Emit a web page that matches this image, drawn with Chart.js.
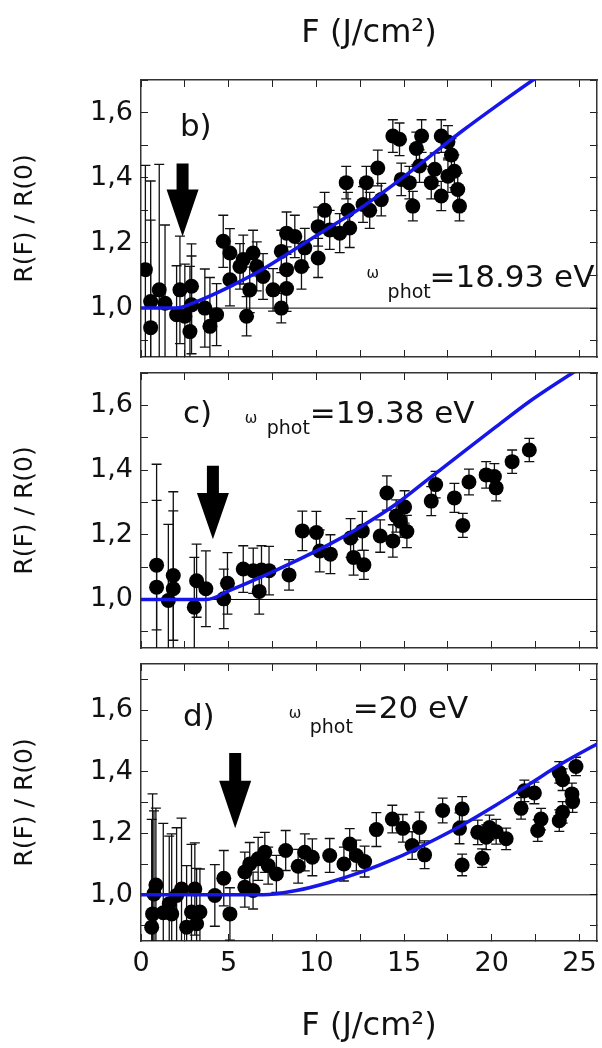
<!DOCTYPE html>
<html>
<head>
<meta charset="utf-8">
<script src="https://cdn.jsdelivr.net/npm/chart.js@4.4.0/dist/chart.umd.min.js"></script>
<style>
  html, body { margin: 0; padding: 0; background: #fff; }
  #wrap { position: relative; width: 602px; height: 1048px; }
  #wrap canvas { position: absolute; left: 0; }
</style>
</head>
<body>
<div id="wrap">
  <canvas id="panelB" width="602" height="365" style="top:0px"></canvas>
  <canvas id="panelC" width="602" height="291" style="top:365px"></canvas>
  <canvas id="panelD" width="602" height="392" style="top:656px"></canvas>
</div>
<script>
// ---- ticks ----
var xTickValues = [0, 2.5, 5, 7.5, 10, 12.5, 15, 17.5, 20, 22.5, 25];
var xTickLabels = [0, 5, 10, 15, 20, 25];
var yTickValues = [0.9, 1.0, 1.1, 1.2, 1.3, 1.4, 1.5, 1.6, 1.7];
var yTickLabels = [1.0, 1.2, 1.4, 1.6];

// ---- panel b) : 18.93 eV ----
var fluenceB = [0.25, 0.55, 0.55, 1.04, 1.37, 2.03, 2.22, 2.5, 2.79, 2.88, 2.88, 3.64, 3.93, 4.31, 4.69, 5.07, 5.07, 5.64, 5.83, 6.02, 6.2, 6.39, 6.6, 6.96, 7.53, 8.0, 8.0, 8.3, 8.3, 8.3, 8.77, 9.15, 9.34, 10.1, 10.1, 10.47, 10.76, 11.33, 11.7, 11.8, 11.9, 12.66, 12.85, 13.04, 13.5, 13.7, 14.36, 14.74, 14.84, 15.3, 15.5, 15.7, 15.88, 16.0, 16.55, 16.75, 17.12, 17.12, 17.5, 17.5, 17.7, 17.87, 18.06, 18.16];
var ratioB = [1.118, 1.02, 0.94, 1.056, 1.015, 0.98, 1.056, 0.975, 0.928, 1.067, 1.01, 1.0, 0.944, 0.98, 1.205, 1.169, 1.087, 1.128, 1.149, 0.975, 1.056, 1.169, 1.128, 1.097, 1.056, 1.0, 1.174, 1.23, 1.118, 1.06, 1.22, 1.128, 1.185, 1.154, 1.25, 1.30, 1.24, 1.23, 1.385, 1.30, 1.246, 1.318, 1.385, 1.30, 1.43, 1.333, 1.528, 1.518, 1.395, 1.385, 1.313, 1.49, 1.436, 1.528, 1.385, 1.426, 1.528, 1.344, 1.405, 1.51, 1.47, 1.42, 1.364, 1.313];
var errB = [0.32, 0.25, 0.45, 0.385, 0.24, 0.15, 0.165, 0.16, 0.2, 0.13, 0.15, 0.12, 0.15, 0.095, 0.08, 0.075, 0.08, 0.07, 0.075, 0.06, 0.07, 0.07, 0.075, 0.07, 0.065, 0.045, 0.065, 0.065, 0.07, 0.07, 0.065, 0.07, 0.06, 0.06, 0.06, 0.055, 0.06, 0.06, 0.05, 0.055, 0.06, 0.055, 0.05, 0.055, 0.055, 0.05, 0.05, 0.05, 0.05, 0.05, 0.045, 0.05, 0.05, 0.05, 0.05, 0.05, 0.05, 0.045, 0.05, 0.05, 0.05, 0.05, 0.05, 0.045];
var fitFluenceB = [0, 2.0, 3.17, 5.07, 6.96, 8.86, 10.76, 12.66, 14.55, 16.45, 18.35, 20.25, 22.43, 24];
var fitRatioB = [1.0, 1.0, 1.02, 1.066, 1.12, 1.184, 1.248, 1.312, 1.385, 1.465, 1.545, 1.62, 1.703, 1.76];

// ---- panel c) : 19.38 eV ----
var fluenceC = [0.89, 0.89, 1.56, 1.84, 1.84, 3.04, 3.17, 3.7, 4.72, 4.93, 5.83, 6.4, 6.74, 6.87, 7.3, 8.44, 9.2, 10.0, 10.19, 10.8, 11.95, 12.12, 12.62, 12.71, 13.64, 14.02, 14.36, 14.55, 14.78, 15.03, 15.16, 16.55, 16.8, 17.87, 18.35, 18.7, 19.68, 20.15, 20.25, 21.16, 22.14];
var ratioC = [1.106, 1.038, 0.997, 1.074, 1.033, 0.976, 1.058, 1.033, 1.002, 1.05, 1.094, 1.089, 1.025, 1.091, 1.089, 1.076, 1.212, 1.207, 1.15, 1.14, 1.19, 1.13, 1.212, 1.107, 1.196, 1.329, 1.181, 1.258, 1.242, 1.286, 1.21, 1.304, 1.355, 1.314, 1.229, 1.363, 1.385, 1.38, 1.345, 1.426, 1.462];
var errC = [0.2, 0.38, 0.235, 0.2, 0.3, 0.154, 0.113, 0.117, 0.092, 0.095, 0.072, 0.07, 0.07, 0.075, 0.075, 0.047, 0.061, 0.065, 0.065, 0.06, 0.06, 0.055, 0.06, 0.045, 0.05, 0.053, 0.05, 0.05, 0.05, 0.05, 0.05, 0.045, 0.041, 0.045, 0.037, 0.04, 0.041, 0.04, 0.04, 0.036, 0.036];
var fitFluenceC = [0, 3.74, 5.07, 6.96, 8.86, 10.76, 12.66, 14.55, 16.45, 18.35, 20.25, 22.15, 24.6, 25.5];
var fitRatioC = [1.0, 1.0, 1.028, 1.072, 1.12, 1.171, 1.229, 1.295, 1.375, 1.455, 1.534, 1.612, 1.70, 1.73];

// ---- panel d) : 20 eV ----
var fluenceD = [0.61, 0.66, 0.74, 0.85, 1.27, 1.61, 1.75, 2.03, 2.31, 2.6, 2.88, 3.07, 3.17, 3.36, 4.21, 4.72, 5.07, 5.92, 5.92, 6.2, 6.39, 6.68, 7.06, 7.25, 7.72, 8.25, 8.96, 9.34, 9.77, 10.76, 11.57, 11.9, 12.28, 12.75, 13.42, 14.33, 14.93, 15.46, 15.88, 16.17, 17.2, 18.16, 18.31, 18.31, 19.2, 19.45, 19.68, 19.87, 20.25, 20.82, 21.67, 21.86, 22.43, 22.62, 22.81, 23.85, 24.04, 23.85, 24.04, 24.57, 24.61, 24.8];
var ratioD = [0.895, 0.938, 1.003, 1.032, 0.942, 0.971, 0.938, 0.998, 1.019, 0.895, 0.944, 1.019, 0.906, 0.944, 0.998, 1.054, 0.938, 1.025, 1.074, 1.10, 1.014, 1.117, 1.138, 1.095, 1.068, 1.144, 1.093, 1.138, 1.122, 1.128, 1.10, 1.165, 1.128, 1.108, 1.212, 1.246, 1.216, 1.16, 1.219, 1.13, 1.274, 1.216, 1.279, 1.097, 1.203, 1.119, 1.187, 1.219, 1.205, 1.182, 1.281, 1.338, 1.331, 1.209, 1.246, 1.241, 1.268, 1.398, 1.374, 1.328, 1.303, 1.417];
var errD = [0.35, 0.39, 0.27, 0.25, 0.29, 0.22, 0.26, 0.22, 0.23, 0.2, 0.22, 0.15, 0.18, 0.14, 0.1, 0.09, 0.085, 0.065, 0.065, 0.07, 0.06, 0.07, 0.065, 0.06, 0.06, 0.065, 0.055, 0.06, 0.06, 0.055, 0.055, 0.05, 0.05, 0.05, 0.055, 0.045, 0.045, 0.045, 0.05, 0.045, 0.04, 0.05, 0.04, 0.035, 0.04, 0.03, 0.04, 0.04, 0.04, 0.035, 0.035, 0.035, 0.035, 0.035, 0.035, 0.035, 0.035, 0.035, 0.035, 0.035, 0.035, 0.03];
var fitFluenceD = [0, 6.96, 8.86, 10.76, 12.66, 14.55, 16.45, 18.35, 20.25, 22.15, 24.04, 26];
var fitRatioD = [1.0, 1.0, 1.014, 1.041, 1.076, 1.119, 1.171, 1.228, 1.292, 1.36, 1.428, 1.49];

// reference line R(F)/R(0) = 1
var baseFluence = [0, 26];
var baseRatio = [1, 1];

var FONT = 'DejaVu Sans';
var INK = '#111';

function toPoints(xs, ys) {
	return xs.map(function(x, i) { return {x: x, y: ys[i]}; });
}

function sameValue(a, b) {
	return Math.abs(a - b) < 1e-6;
}

// fixed axis box, no label overflow padding (keeps the three plot frames aligned)
function fixBox(w, h) {
	return function(s) {
		if (w !== null) s.width = w;
		if (h !== null) s.height = h;
		s.paddingTop = s.paddingBottom = s.paddingLeft = s.paddingRight = 0;
	};
}

// error bars (under the points), threshold arrow and text labels (on top)
function decorPlugin(p) {
	return {
		id: 'decor',
		beforeDatasetsDraw: function(chart) {
			var ctx = chart.ctx, xs = chart.scales.x, ys = chart.scales.y, a = chart.chartArea;
			ctx.save();
			ctx.beginPath();
			ctx.rect(a.left, a.top, a.right - a.left, a.bottom - a.top);
			ctx.clip();
			ctx.strokeStyle = INK;
			ctx.lineWidth = 1.3;
			p.x.forEach(function(v, i) {
				var px = xs.getPixelForValue(v);
				var top = ys.getPixelForValue(p.y[i] + p.err[i]);
				var bot = ys.getPixelForValue(p.y[i] - p.err[i]);
				ctx.beginPath();
				ctx.moveTo(px, top); ctx.lineTo(px, bot);
				ctx.moveTo(px - 5, top); ctx.lineTo(px + 5, top);
				ctx.moveTo(px - 5, bot); ctx.lineTo(px + 5, bot);
				ctx.stroke();
			});
			ctx.restore();
		},
		afterDatasetsDraw: function(chart) {
			var ctx = chart.ctx, xs = chart.scales.x, ys = chart.scales.y;
			var ar = p.arrow;
			var ax = xs.getPixelForValue(ar.x);
			var aTop = ys.getPixelForValue(ar.top);
			var aHead = ys.getPixelForValue(ar.head);
			var aTip = ys.getPixelForValue(ar.tip);
			ctx.save();
			ctx.fillStyle = '#000';
			ctx.beginPath();
			ctx.moveTo(ax - 6, aTop);
			ctx.lineTo(ax + 6, aTop);
			ctx.lineTo(ax + 6, aHead);
			ctx.lineTo(ax + 16, aHead);
			ctx.lineTo(ax, aTip);
			ctx.lineTo(ax - 16, aHead);
			ctx.lineTo(ax - 6, aHead);
			ctx.closePath();
			ctx.fill();

			ctx.fillStyle = INK;
			ctx.textAlign = 'left';
			ctx.textBaseline = 'alphabetic';
			p.labels.forEach(function(l) {
				ctx.font = l.size + 'px "' + FONT + '"';
				ctx.fillText(l.text, xs.getPixelForValue(l.x), ys.getPixelForValue(l.y));
			});
			ctx.restore();
		}
	};
}

function buildPanel(id, p) {
	var tickFont = {family: FONT, size: 27};
	var grid = {display: true, drawOnChartArea: false, drawTicks: true, tickLength: -7, color: '#222', lineWidth: 1};
	var border = {display: true, color: '#333', width: 1.5};
	var setXTicks = function(s) {
		s.ticks = xTickValues.map(function(v) { return {value: v}; });
	};
	var setYTicks = function(s) {
		s.ticks = yTickValues.filter(function(v) { return v <= p.yMax; }).map(function(v) { return {value: v}; });
	};
	var xTicks = function(show) {
		return {
			autoSkip: false, maxRotation: 0, padding: 14, font: tickFont, color: INK,
			callback: function(v) {
				var hit = xTickLabels.some(function(t) { return sameValue(t, v); });
				return show && hit ? String(v) : '';
			}
		};
	};
	var yTicks = function(show) {
		return {
			autoSkip: false, padding: 15, font: tickFont, color: INK,
			callback: function(v) {
				var hit = yTickLabels.some(function(t) { return sameValue(t, v); });
				return show && hit ? v.toFixed(1).replace('.', ',') : '';
			}
		};
	};
	var titleFont = {family: FONT, size: 32};

	return new Chart(document.getElementById(id), {
		type: 'scatter',
		data: {
			datasets: [{
				type: 'line',
				data: toPoints(p.fitX, p.fitY),
				borderColor: '#1616e8',
				borderWidth: 3.5,
				pointRadius: 0,
				fill: false,
				cubicInterpolationMode: 'monotone'
			}, {
				data: toPoints(p.x, p.y),
				pointRadius: 7.5,
				pointBackgroundColor: '#000',
				pointBorderWidth: 0
			}, {
				type: 'line',
				data: toPoints(baseFluence, baseRatio),
				borderColor: '#000',
				borderWidth: 1,
				pointRadius: 0,
				fill: false
			}]
		},
		options: {
			responsive: false,
			animation: false,
			events: [],
			layout: {padding: 0, autoPadding: false},
			plugins: {legend: {display: false}, tooltip: {enabled: false}},
			scales: {
				x: {
					type: 'linear', position: 'bottom', min: 0, max: 26,
					grid: grid, border: border, ticks: xTicks(p.bottomAxis),
					afterBuildTicks: setXTicks,
					title: {display: p.bottomAxis, text: 'F (J/cm²)', font: titleFont, color: INK, padding: {top: 0, bottom: 2}},
					afterFit: fixBox(null, p.bottomAxis ? 107 : 8)
				},
				x2: {
					type: 'linear', position: 'top', min: 0, max: 26,
					grid: grid, border: border, ticks: xTicks(false),
					afterBuildTicks: setXTicks,
					title: {display: p.topAxis, text: 'F (J/cm²)', font: titleFont, color: INK, padding: {top: 14.5, bottom: 0}},
					afterFit: fixBox(null, p.topAxis ? 80 : 8)
				},
				y: {
					type: 'linear', position: 'left', min: 0.85, max: p.yMax,
					grid: grid, border: border, ticks: yTicks(true),
					afterBuildTicks: setYTicks,
					title: {display: true, text: 'R(F) / R(0)', font: {family: FONT, size: 25}, color: INK, padding: {top: 10.5, bottom: 0}},
					afterFit: fixBox(141, null)
				},
				y2: {
					type: 'linear', position: 'right', min: 0.85, max: p.yMax,
					grid: grid, border: border, ticks: yTicks(false),
					afterBuildTicks: setYTicks,
					afterFit: fixBox(5, null)
				}
			}
		},
		plugins: [decorPlugin(p)]
	});
}

buildPanel('panelB', {
	x: fluenceB, y: ratioB, err: errB, fitX: fitFluenceB, fitY: fitRatioB,
	yMax: 1.70, topAxis: true, bottomAxis: false,
	arrow: {x: 2.37, top: 1.444, head: 1.364, tip: 1.22},
	labels: [
		{text: 'b)', x: 2.22, y: 1.527, size: 31},
		{text: 'ω', x: 12.86, y: 1.093, size: 15},
		{text: 'phot', x: 14.06, y: 1.032, size: 19},
		{text: '=18.93 eV', x: 16.45, y: 1.066, size: 31}
	]
});

buildPanel('panelC', {
	x: fluenceC, y: ratioC, err: errC, fitX: fitFluenceC, fitY: fitRatioC,
	yMax: 1.70, topAxis: false, bottomAxis: false,
	arrow: {x: 4.1, top: 1.413, head: 1.329, tip: 1.186},
	labels: [
		{text: 'c)', x: 2.39, y: 1.545, size: 31},
		{text: 'ω', x: 5.92, y: 1.545, size: 15},
		{text: 'phot', x: 7.17, y: 1.511, size: 19},
		{text: '=19.38 eV', x: 9.62, y: 1.545, size: 31}
	]
});

buildPanel('panelD', {
	x: fluenceD, y: ratioD, err: errD, fitX: fitFluenceD, fitY: fitRatioD,
	yMax: 1.75, topAxis: false, bottomAxis: true,
	arrow: {x: 5.37, top: 1.461, head: 1.371, tip: 1.216},
	labels: [
		{text: 'd)', x: 2.39, y: 1.55, size: 31},
		{text: 'ω', x: 8.42, y: 1.576, size: 15},
		{text: 'phot', x: 9.62, y: 1.527, size: 19},
		{text: '=20 eV', x: 12.07, y: 1.576, size: 31}
	]
});
</script>
</body>
</html>
